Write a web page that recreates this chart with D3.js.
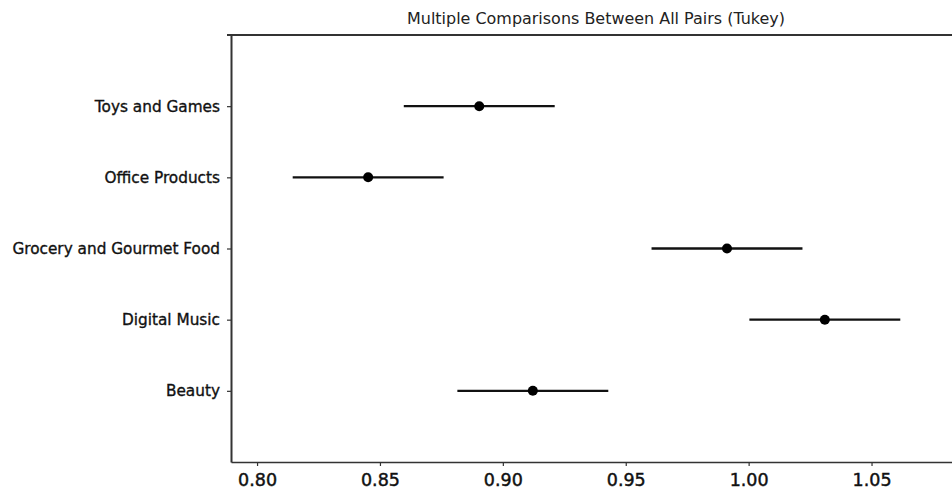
<!DOCTYPE html>
<html>
<head>
<meta charset="utf-8">
<script src="https://cdn.jsdelivr.net/npm/d3@7"></script>
<style>
  html, body { margin: 0; padding: 0; background: #fff; }
  svg { display: block; font-family: "DejaVu Sans", sans-serif; }
</style>
</head>
<body>
<svg id="chart" width="952" height="490"></svg>
<script>
// ---- data ----
const title = "Multiple Comparisons Between All Pairs (Tukey)";
const categories = ["Beauty", "Digital Music", "Grocery and Gourmet Food", "Office Products", "Toys and Games"];
const means = [0.9122, 1.0310, 0.9912, 0.8452, 0.8904];
const halfWidths = [0.0307, 0.0307, 0.0307, 0.0307, 0.0307];
const xTicks = [0.80, 0.85, 0.90, 0.95, 1.00, 1.05];
const xTickLabels = ["0.80", "0.85", "0.90", "0.95", "1.00", "1.05"];
const xDomain = [0.7894, 1.0864];
const yDomain = [-1, categories.length];

// ---- layout ----
const svg = d3.select("#chart");
const plotLeft = 231, plotRight = 961, plotTop = 35, plotBottom = 462;

const x = d3.scaleLinear().domain(xDomain).range([plotLeft, plotRight]);
const y = d3.scaleLinear().domain(yDomain).range([plotBottom, plotTop]);

// title
svg.append("text")
  .attr("x", (plotLeft + plotRight) / 2)
  .attr("y", 24)
  .attr("text-anchor", "middle")
  .attr("font-size", 15.5)
  .attr("fill", "#222")
  .attr("textLength", 378)
  .attr("lengthAdjust", "spacingAndGlyphs")
  .text(title);

// x axis
const xAxis = d3.axisBottom(x)
  .tickValues(xTicks)
  .tickFormat((d, i) => xTickLabels[i])
  .tickSizeInner(4).tickSizeOuter(0).tickPadding(8);
const gx = svg.append("g").attr("transform", `translate(0,${plotBottom})`).call(xAxis);
gx.select(".domain").attr("stroke", "#333").attr("stroke-width", 1.6);
gx.selectAll(".tick line").attr("stroke", "#333").attr("stroke-width", 1.2);
gx.selectAll(".tick text").attr("font-size", 17.5).attr("fill", "#111")
  .attr("stroke", "#111").attr("stroke-width", 0.45)
  .attr("font-family", "DejaVu Sans, sans-serif");

// y axis
const yAxis = d3.axisLeft(y)
  .tickValues(d3.range(categories.length))
  .tickFormat(i => categories[i])
  .tickSizeInner(4).tickSizeOuter(0).tickPadding(7);
const gy = svg.append("g").attr("transform", `translate(${plotLeft},0)`).call(yAxis);
gy.select(".domain").attr("stroke", "#333").attr("stroke-width", 2);
gy.selectAll(".tick line").attr("stroke", "#333").attr("stroke-width", 1.2);
gy.selectAll(".tick text").attr("font-size", 15.3).attr("fill", "#111")
  .attr("stroke", "#111").attr("stroke-width", 0.35)
  .attr("font-family", "DejaVu Sans, sans-serif");

// top spine
svg.append("line")
  .attr("x1", x(xDomain[0]) - 4).attr("x2", x(xDomain[1]))
  .attr("y1", y(yDomain[1])).attr("y2", y(yDomain[1]))
  .attr("stroke", "#333").attr("stroke-width", 1.8);

// intervals
const rows = categories.map((c, i) => ({ c, i, m: means[i], h: halfWidths[i] }));
svg.append("g").selectAll("line.ci").data(rows).join("line")
  .attr("class", "ci")
  .attr("x1", d => x(d.m - d.h)).attr("x2", d => x(d.m + d.h))
  .attr("y1", d => y(d.i)).attr("y2", d => y(d.i))
  .attr("stroke", "#111").attr("stroke-width", 2.4);
svg.append("g").selectAll("circle").data(rows).join("circle")
  .attr("cx", d => x(d.m)).attr("cy", d => y(d.i))
  .attr("r", 5).attr("fill", "#000");
</script>
</body>
</html>
